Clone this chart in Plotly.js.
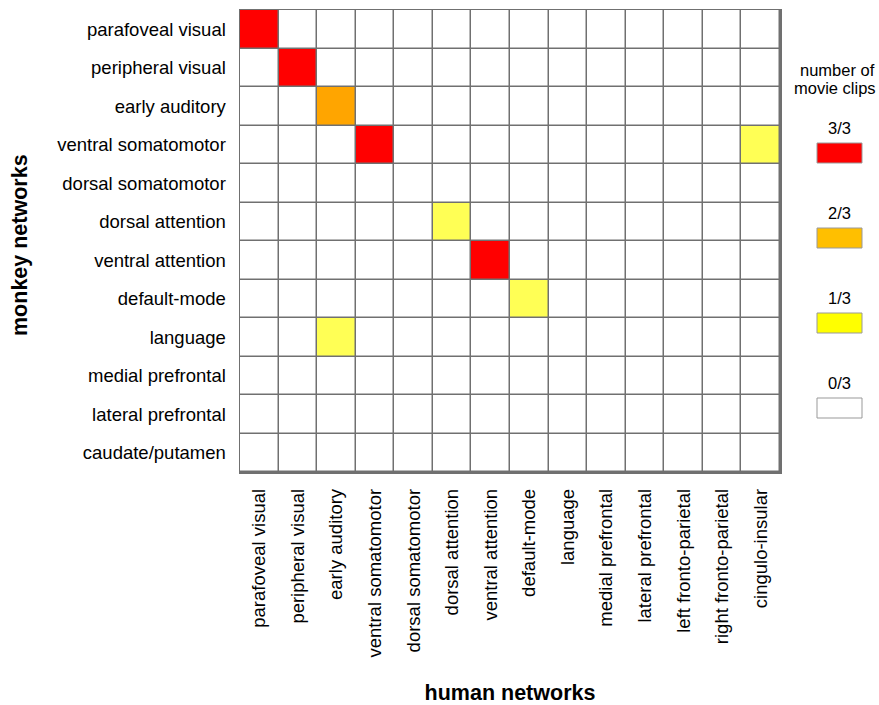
<!DOCTYPE html>
<html><head><meta charset="utf-8">
<script src="https://cdn.plot.ly/plotly-3.0.1.min.js"></script>
<style>html,body{margin:0;padding:0;background:#fff}#chart{width:879px;height:705px}</style>
</head><body><div id="chart"></div>
<script>
const humanNetworks = ["parafoveal visual","peripheral visual","early auditory","ventral somatomotor","dorsal somatomotor","dorsal attention","ventral attention","default-mode","language","medial prefrontal","lateral prefrontal","left fronto-parietal","right fronto-parietal","cingulo-insular"];
const monkeyNetworks = ["parafoveal visual","peripheral visual","early auditory","ventral somatomotor","dorsal somatomotor","dorsal attention","ventral attention","default-mode","language","medial prefrontal","lateral prefrontal","caudate/putamen"];
// number of movie clips (out of 3), rows = monkey networks, cols = human networks
const clipCounts = [
  [3,0,0,0,0,0,0,0,0,0,0,0,0,0],
  [0,3,0,0,0,0,0,0,0,0,0,0,0,0],
  [0,0,2,0,0,0,0,0,0,0,0,0,0,0],
  [0,0,0,3,0,0,0,0,0,0,0,0,0,1],
  [0,0,0,0,0,0,0,0,0,0,0,0,0,0],
  [0,0,0,0,0,1,0,0,0,0,0,0,0,0],
  [0,0,0,0,0,0,3,0,0,0,0,0,0,0],
  [0,0,0,0,0,0,0,1,0,0,0,0,0,0],
  [0,0,1,0,0,0,0,0,0,0,0,0,0,0],
  [0,0,0,0,0,0,0,0,0,0,0,0,0,0],
  [0,0,0,0,0,0,0,0,0,0,0,0,0,0],
  [0,0,0,0,0,0,0,0,0,0,0,0,0,0]
];
const legendLabels = ["3/3","2/3","1/3","0/3"];
const legendColors = ["#FF0000","#FFBF00","#FFFF00","#FFFFFF"];
const cellColors = ["#FFFFFF","#FFFF55","#FFA500","#FF0000"];

const xIdx = humanNetworks.map((_, i) => i);
const yIdx = monkeyNetworks.map((_, i) => i);

const trace = {
  type: "heatmap",
  x: xIdx, y: yIdx, z: clipCounts,
  zmin: 0, zmax: 3,
  colorscale: [[0, cellColors[0]], [1/3, cellColors[1]], [2/3, cellColors[2]], [1, cellColors[3]]],
  showscale: false,
  xgap: 1.5, ygap: 1.5,
  hoverinfo: "skip"
};

const font = "Liberation Sans, Arial, Helvetica, sans-serif";
const PX = v => (v - 240) / 540;
const PY = v => 1 - (v - 10) / 462;
const shapes = [];
const annotations = [
  {xref:"paper", yref:"paper", x:PX(877), y:PY(70), text:"number of", showarrow:false, font:{family:font,size:16.5,color:"#000"}, xanchor:"right", yanchor:"middle"},
  {xref:"paper", yref:"paper", x:PX(878), y:PY(88), text:"movie clips", showarrow:false, font:{family:font,size:16.5,color:"#000"}, xanchor:"right", yanchor:"middle"},
  {xref:"paper", yref:"paper", x:PX(20), y:PY(245), text:"<b>monkey networks</b>", textangle:-90, showarrow:false, font:{family:font,size:21.5,color:"#000"}, xanchor:"center", yanchor:"middle"}
];
const swatchTop = [143, 228, 313, 398];
legendLabels.forEach((lab, i) => {
  const top = swatchTop[i];
  shapes.push({type:"rect", xref:"paper", yref:"paper",
    x0:PX(817), x1:PX(862), y0:PY(top), y1:PY(top+20),
    fillcolor: legendColors[i], line:{color:"#999", width:1}});
  annotations.push({xref:"paper", yref:"paper", x:PX(839.5), y:PY(top-15),
    text: lab, showarrow:false, font:{family:font,size:16.5,color:"#000"}, xanchor:"center", yanchor:"middle"});
});

const layout = {
  width: 879, height: 705,
  margin: {l:240, r:99, t:10, b:233, pad:0},
  paper_bgcolor: "#fff",
  plot_bgcolor: "#707070",
  font: {family: font, color: "#000"},
  xaxis: {
    tickvals: xIdx, ticktext: humanNetworks, tickangle: -90,
    range: [-0.5, 13.5], showgrid: false, zeroline: false,
    showline: true, mirror: true, linecolor: "#707070", linewidth: 1.5,
    ticks: "", ticklen: 0, tickfont: {size: 18.5, family: font},
    ticklabelstandoff: 8,
    title: {text: "<b>human networks</b>", font: {size: 21.5, family: font}, standoff: 28}
  },
  yaxis: {
    tickvals: yIdx, ticktext: monkeyNetworks,
    range: [11.5, -0.5], showgrid: false, zeroline: false,
    showline: true, mirror: true, linecolor: "#707070", linewidth: 1.5,
    ticks: "", ticklen: 0, tickfont: {size: 18.5, family: font},
    ticklabelstandoff: 9
  },
  shapes: shapes,
  annotations: annotations,
  showlegend: false
};

Plotly.newPlot("chart", [trace], layout, {displayModeBar: false, staticPlot: true});
</script></body></html>
